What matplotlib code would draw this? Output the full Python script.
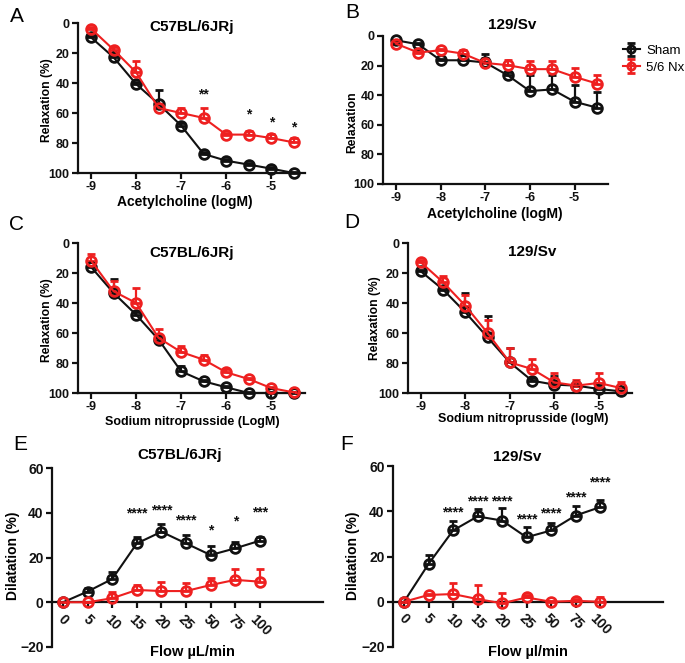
import matplotlib
matplotlib.use("Agg")
import matplotlib.pyplot as plt
import numpy as np

plt.rcParams['font.family'] = ['Liberation Sans', 'DejaVu Sans']
plt.rcParams['font.weight'] = 'bold'

# ---------------- data ----------------
log_conc = [-9, -8.5, -8, -7.5, -7, -6.5, -6, -5.5, -5, -4.5]

A_sham = [9.6, 22.9, 40.7, 54.0, 68.4, 87.3, 91.8, 94.4, 97.1, 100.0]
A_sham_err = [1, 1, 1.5, 9.6, 1.5, 1, 1, 1, 1, 0.5]
A_nx = [3.8, 17.8, 32.9, 56.7, 60.0, 63.3, 74.4, 74.4, 76.7, 79.6]
A_nx_err = [1, 1.5, 7.8, 1, 3.3, 6.6, 1, 2.5, 2.5, 3]
A_stars_x = [-6.5, -5.5, -5, -4.5]
A_stars_y = [47.8, 61.0, 66.0, 69.5]
A_stars = ['**', '*', '*', '*']

B_sham = [2.9, 5.6, 16.4, 16.4, 17.9, 26.5, 37.2, 36.1, 44.4, 48.4]
B_sham_err = [0.5, 1, 1, 1, 6, 2, 10.7, 9.6, 11.2, 10.7]
B_nx = [5.2, 11.2, 9.6, 11.9, 18.2, 19.7, 22.4, 22.4, 27.6, 32.1]
B_nx_err = [1, 2, 1, 2.7, 3, 3.8, 5.4, 5.4, 6, 5.6]

C_sham = [16.0, 33.3, 47.8, 64.4, 85.6, 92.2, 96.2, 100.0, 100.0, 100.0]
C_sham_err = [1, 9, 2, 1, 3.5, 1, 1, 0.5, 0.5, 0.5]
C_nx = [11.8, 32.2, 40.0, 63.3, 72.7, 77.8, 86.2, 90.7, 96.7, 99.6]
C_nx_err = [4.5, 7.2, 10, 6, 4.3, 2.9, 2.2, 1, 1, 0.5]

D_sham = [18.9, 31.1, 46.2, 62.9, 79.6, 91.8, 94.4, 95.1, 97.3, 98.9]
D_sham_err = [1, 1, 13, 14.4, 9.6, 1.5, 5.5, 1, 1, 0.5]
D_nx = [12.9, 26.2, 41.8, 60.0, 79.6, 84.0, 92.9, 95.1, 93.3, 96.7]
D_nx_err = [1.3, 4, 7.4, 8.9, 9.6, 7, 6.2, 4.1, 6.6, 3.8]

flow_labels = ['0', '5', '10', '15', '20', '25', '50', '75', '100']

E_sham = [0, 4.8, 10.4, 26.3, 31.5, 26.3, 21.1, 24.1, 27.5]
E_sham_err = [0, 1.5, 3.3, 2.7, 3.3, 3.7, 4.0, 2.7, 1.8]
E_nx = [0, 0, 1.8, 5.5, 5.0, 5.0, 7.7, 10.0, 9.2]
E_nx_err = [0, 0, 2.7, 2.2, 4.2, 3.7, 3.3, 4.7, 5.5]
E_stars = ['****', '****', '****', '*', '*', '***']
E_stars_idx = [3, 4, 5, 6, 7, 8]
E_stars_y = [39.8, 41.2, 36.7, 32.0, 36.0, 40.0]

F_sham = [0, 16.7, 31.5, 37.7, 35.9, 28.5, 31.5, 38.1, 41.8]
F_sham_err = [0, 4.1, 4.1, 3.4, 5.5, 4.4, 3.4, 4.0, 3.2]
F_nx = [0, 3.0, 3.4, 1.2, -0.7, 1.9, 0, 0.4, 0]
F_nx_err = [0, 0.5, 4.7, 6.2, 4.4, 1, 0.5, 1, 2.2]
F_stars = ['****', '****', '****', '****', '****', '****', '****']
F_stars_idx = [2, 3, 4, 5, 6, 7, 8]
F_stars_y = [39.6, 44.3, 44.3, 36.2, 39.1, 46.0, 52.5]

BLACK = '#111111'
RED = '#ee2020'

W, H = 685, 663
fig = plt.figure(figsize=(W / 100, H / 100), dpi=100)

YL = 8.7   # y-label size for relaxation panels


def ax_at(l, r, t, b):
    return fig.add_axes([l / W, 1 - b / H, (r - l) / W, (b - t) / H])


def style(ax):
    for s in ['top', 'right']:
        ax.spines[s].set_visible(False)
    for s in ['left', 'bottom']:
        ax.spines[s].set_linewidth(1.6)
        ax.spines[s].set_color(BLACK)
    ax.tick_params(direction='out', length=4, width=1.6, labelsize=9, colors=BLACK, pad=2)
    for lab in ax.get_xticklabels() + ax.get_yticklabels():
        lab.set_fontweight('bold')


def series(ax, x, y, err, color, lower, label=None):
    e = np.array(err)
    z = np.zeros_like(e)
    yerr = [e, z] if lower else [z, e]
    ax.errorbar(x, y, yerr=yerr, color=color, ecolor=color, elinewidth=1.6, capsize=3, capthick=1.6,
                lw=1.5, marker='o', ms=7, mfc='none', mew=2, clip_on=False, label=label, zorder=3)


def conc_panel(ax, sham, sham_err, nx, nx_err, label_sham=None, label_nx=None):
    series(ax, log_conc, sham, sham_err, BLACK, True, label_sham)
    series(ax, log_conc, nx, nx_err, RED, True, label_nx)
    ax.set_xlim(-9.29, -4.25)
    ax.set_ylim(100, 0)
    ax.set_xticks([-9, -8, -7, -6, -5])
    ax.set_xticklabels(['-9', '-8', '-7', '-6', '-5'])
    ax.set_yticks([0, 20, 40, 60, 80, 100])
    style(ax)


# ----- A -----
axA = ax_at(78, 305, 23, 173)
conc_panel(axA, A_sham, A_sham_err, A_nx, A_nx_err)
for sx, sy, st in zip(A_stars_x, A_stars_y, A_stars):
    axA.text(sx, sy, st, ha='center', va='center', fontsize=10, fontweight='bold', color=BLACK)
axA.text(0.5, 0.975, 'C57BL/6JRj', transform=axA.transAxes, ha='center', va='center',
         fontsize=11, fontweight='bold')
fig.text(47 / W, 1 - 100 / H, 'Relaxation (%)', rotation=90, ha='center', va='center', fontsize=YL, fontweight='bold')
fig.text(185 / W, 1 - 202 / H, 'Acetylcholine (logM)', ha='center', va='center', fontsize=10, fontweight='bold')
fig.text(17 / W, 1 - 17 / H, 'A', ha='center', va='center', fontsize=15, fontweight='normal')

# ----- B -----
axB = ax_at(383, 608, 36, 184)
conc_panel(axB, B_sham, B_sham_err, B_nx, B_nx_err, 'Sham', '5/6 Nx')
axB.text(0.573, 1 + 11 / 148, '129/Sv', transform=axB.transAxes, ha='center', va='center',
         fontsize=11, fontweight='bold')
fig.text(352 / W, 1 - 122 / H, 'Relaxation', rotation=90, ha='center', va='center', fontsize=YL, fontweight='bold')
fig.text(495 / W, 1 - 214 / H, 'Acetylcholine (logM)', ha='center', va='center', fontsize=10, fontweight='bold')
fig.text(352 / W, 1 - 13 / H, 'B', ha='center', va='center', fontsize=15, fontweight='normal')
leg = axB.legend(loc='upper left', bbox_to_anchor=(616 / W, 1 - 38 / H), bbox_transform=fig.transFigure,
                 frameon=False, handlelength=1.3, handletextpad=0.5, borderpad=0, labelspacing=0.35,
                 markerscale=0.75,
                 prop={'family': 'Liberation Sans', 'weight': 'normal', 'size': 9.5})

# ----- C -----
axC = ax_at(78, 305, 243, 393)
conc_panel(axC, C_sham, C_sham_err, C_nx, C_nx_err)
axC.text(0.5, 1 - 10 / 150, 'C57BL/6JRj', transform=axC.transAxes, ha='center', va='center',
         fontsize=11, fontweight='bold')
fig.text(47 / W, 1 - 320 / H, 'Relaxation (%)', rotation=90, ha='center', va='center', fontsize=YL, fontweight='bold')
fig.text(192 / W, 1 - 422 / H, 'Sodium nitroprusside (LogM)', ha='center', va='center', fontsize=9, fontweight='bold')
fig.text(17 / W, 1 - 225 / H, 'C', ha='center', va='center', fontsize=15, fontweight='normal')

# ----- D -----
axD = ax_at(408, 632, 243, 393)
conc_panel(axD, D_sham, D_sham_err, D_nx, D_nx_err)
axD.text((532 - 408) / 224, 1 - 9 / 150, '129/Sv', transform=axD.transAxes, ha='center', va='center',
         fontsize=11, fontweight='bold')
fig.text(375 / W, 1 - 318 / H, 'Relaxation (%)', rotation=90, ha='center', va='center', fontsize=YL, fontweight='bold')
fig.text(523 / W, 1 - 419 / H, 'Sodium nitroprusside (logM)', ha='center', va='center', fontsize=9, fontweight='bold')
fig.text(352 / W, 1 - 223 / H, 'D', ha='center', va='center', fontsize=15, fontweight='normal')


# ----- E / F -----
def flow_panel(ax, sham, sham_err, nx, nx_err, stars, stars_idx, stars_y):
    x = np.arange(len(flow_labels))
    series(ax, x, sham, sham_err, BLACK, False)
    series(ax, x, nx, nx_err, RED, False)
    for i, sy, st in zip(stars_idx, stars_y, stars):
        ax.text(x[i], sy, st, ha='center', va='center', fontsize=10, fontweight='bold', color=BLACK)
    ax.set_ylim(-20, 60)
    ax.set_yticks([-20, 0, 20, 40, 60])
    ax.spines['bottom'].set_position(('data', 0))
    ax.set_xticks(x)
    ax.set_xticklabels(flow_labels, rotation=-45, ha='center', va='top')
    style(ax)
    ax.tick_params(axis='y', labelsize=10)
    ax.tick_params(axis='x', labelsize=10, pad=3)


axE = ax_at(52, 323, 468, 647)
flow_panel(axE, E_sham, E_sham_err, E_nx, E_nx_err, E_stars, E_stars_idx, E_stars_y)
axE.set_xlim(-0.45, 10.57)
axE.text((180 - 52) / 271, 1 + 13 / 179, 'C57BL/6JRj', transform=axE.transAxes, ha='center', va='center',
         fontsize=11, fontweight='bold')
fig.text(13 / W, 1 - 556 / H, 'Dilatation (%)', rotation=90, ha='center', va='center', fontsize=10, fontweight='bold')
fig.text(192 / W, 1 - 652 / H, 'Flow µL/min', ha='center', va='center', fontsize=10.5, fontweight='bold')
fig.text(20 / W, 1 - 445 / H, 'E', ha='center', va='center', fontsize=15, fontweight='normal')

axF = ax_at(393, 663, 466, 647)
flow_panel(axF, F_sham, F_sham_err, F_nx, F_nx_err, F_stars, F_stars_idx, F_stars_y)
axF.set_xlim(-0.45, 10.57)
axF.text((517 - 393) / 270, 1 + 9 / 181, '129/Sv', transform=axF.transAxes, ha='center', va='center',
         fontsize=11, fontweight='bold')
fig.text(353 / W, 1 - 556 / H, 'Dilatation (%)', rotation=90, ha='center', va='center', fontsize=10, fontweight='bold')
fig.text(528 / W, 1 - 652 / H, 'Flow µl/min', ha='center', va='center', fontsize=10.5, fontweight='bold')
fig.text(347 / W, 1 - 445 / H, 'F', ha='center', va='center', fontsize=15, fontweight='normal')

fig.savefig('out.png', dpi=100)
